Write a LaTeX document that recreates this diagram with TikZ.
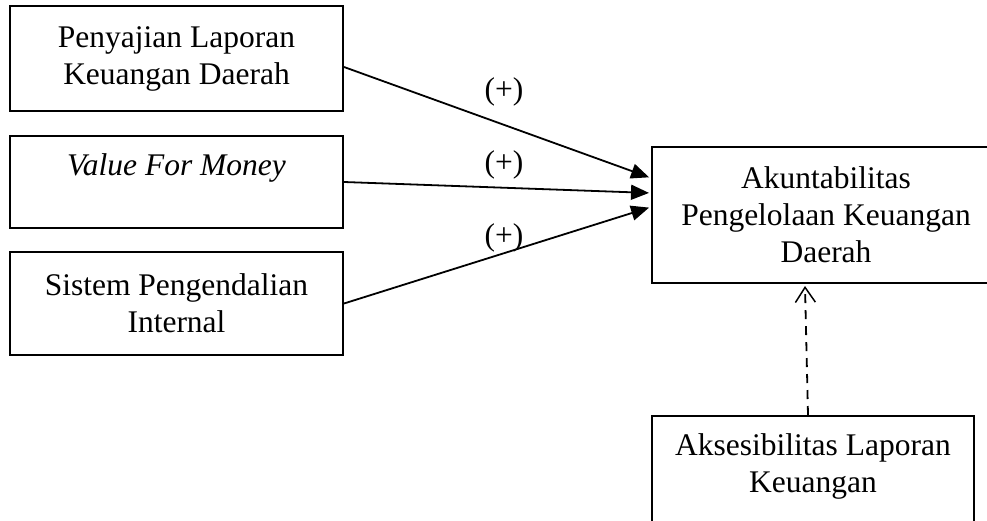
\documentclass[tikz,border=0pt]{standalone}
\usepackage{fontspec}
\setmainfont{Liberation Serif}
\usetikzlibrary{arrows.meta}
\begin{document}
\begin{tikzpicture}[x=1pt,y=-1pt,
  box/.style={draw, line width=2pt, align=center, inner sep=0pt,
    font=\fontsize{31.5}{37}\selectfont},
  lbl/.style={inner sep=0pt, font=\fontsize{31.5}{37}\selectfont},
  arr/.style={line width=1.8pt, shorten >=2pt, -{Triangle[length=18pt,width=15pt]}},
  darr/.style={line width=1.8pt, dash pattern=on 9pt off 7pt,
    -{Straight Barb[length=15pt,width=20pt,line width=1.5pt]}}]
\clip (0,0) rectangle (987,521);
\node[box, minimum width=333pt, minimum height=105pt] (b1) at (176.5,58.5)
  {Penyajian Laporan\\Keuangan Daerah};
\node[box, minimum width=333pt, minimum height=92pt, text depth=35pt] (b2) at (176.5,182)
  {\textit{Value For Money}};
\node[box, minimum width=333pt, minimum height=103pt] (b3) at (176.5,303.5)
  {Sistem Pengendalian\\Internal};
\node[box, minimum width=348pt, minimum height=136pt] (b4) at (826,215)
  {Akuntabilitas\\Pengelolaan Keuangan\\Daerah};
\node[box, minimum width=322pt, minimum height=142pt] (b5) at (813,487)
  {Aksesibilitas Laporan\\Keuangan\\\strut};
\draw[arr] ([yshift=-8.5pt]b1.east) -- ([yshift=37pt]b4.west);
\draw[arr] (b2.east) -- ([yshift=22pt]b4.west);
\draw[arr] (b3.east) -- ([yshift=8pt]b4.west);
\draw[darr] ([xshift=-5pt]b5.north) -- ([xshift=-21pt,yshift=-2pt]b4.south);
\node[lbl] (p1) at (504,92) {(+)};
\node[lbl] (p2) at (504,165) {(+)};
\node[lbl] (p3) at (504,238) {(+)};
\end{tikzpicture}
\end{document}
